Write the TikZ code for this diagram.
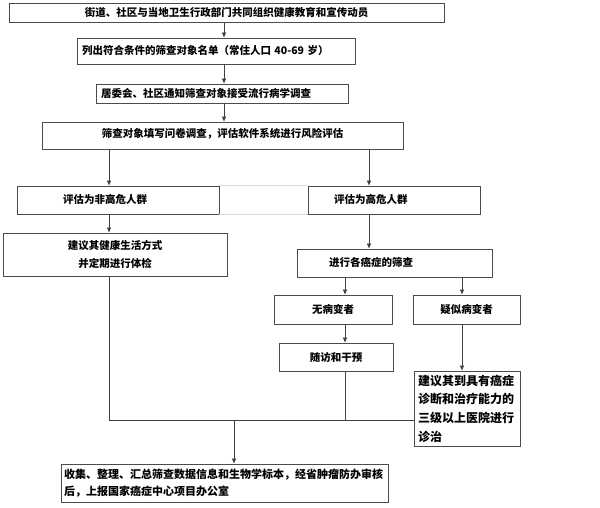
\documentclass[tikz,border=0pt]{standalone}
\usepackage{fontspec}
\setmainfont{Noto Sans CJK SC}
\usetikzlibrary{positioning, arrows.meta}

\begin{document}
\begin{tikzpicture}[x=1pt, y=-1pt,
box/.style={draw=black!70, line width=0.6pt, inner sep=0pt, align=center, font=\fontsize{10.5}{18}\selectfont\bfseries},
lbox/.style={box, align=left, inner xsep=5pt},
arrow/.style={draw=black!75, line width=0.6pt, -{Latex[length=1.8mm, width=1.6mm]}},
link/.style={draw=black!75, line width=0.6pt},
faint/.style={draw=black!15, line width=0.5pt} ]

\useasboundingbox (0,0) rectangle (600,507);

% Columns
\coordinate (spine) at (224,0);
\coordinate (colL) at (109,0);
\coordinate (colR) at (369,0);
\coordinate (colA) at (345,0);
\coordinate (colB) at (462,0);
\coordinate (join) at (234,420);

% Nodes
\node[box, minimum width=435pt, minimum height=19pt] (mobilize) at (226.5,12.5) {街道、社区与当地卫生行政部门共同组织健康教育和宣传动员};
\node[lbox, text width=268pt, minimum height=26pt] (list) at (216,51) {列出符合条件的筛查对象名单（常住人口 40-69 岁）};
\node[lbox, text width=242pt, minimum height=19pt] (notify) at (222,93.5) {居委会、社区通知筛查对象接受流行病学调查};
\node[box, minimum width=361pt, minimum height=27pt, text depth=5pt] (survey) at (222.5,135.5) {筛查对象填写问卷调查，评估软件系统进行风险评估};
\node[lbox, inner xsep=46pt, text width=110pt, minimum height=28pt, text depth=3pt] (lowrisk) at (118,200) {评估为非高危人群};
\node[lbox, inner xsep=26pt, text width=120pt, minimum height=28pt, text depth=3pt] (highrisk) at (394,200) {评估为高危人群};
\node[box, minimum width=224pt, minimum height=43pt] (advice) at (115,254.5) {建议其健康生活方式\\并定期进行体检};
\node[lbox, inner xsep=32pt, text width=131pt, minimum height=28pt, text depth=3pt] (screen) at (394.5,263) {进行各癌症的筛查};
\node[box, minimum width=118pt, minimum height=29pt] (nolesion) at (333,309.5) {无病变者};
\node[box, minimum width=107pt, minimum height=29pt] (suspect) at (466.5,309.5) {疑似病变者};
\node[box, minimum width=114pt, minimum height=28pt] (follow) at (336,357) {随访和干预};
\node[lbox, inner xsep=4pt, text width=98pt, minimum height=75pt, font=\fontsize{12}{18.7}\selectfont\bfseries] (hospital) at (467,408.5) {建议其到具有癌症\\诊断和治疗能力的\\三级以上医院进行\\诊治};
\node[lbox, inner xsep=3pt, text width=321pt, minimum height=38pt, font=\fontsize{11}{17.6}\selectfont\bfseries] (report) at (224.5,483) {收集、整理、汇总筛查数据信息和生物学标本，经省肿瘤防办审核\\后，上报国家癌症中心项目办公室};

% Arrows
\draw[arrow] (mobilize.south -| spine) -- (list.north -| spine);
\draw[arrow] (list.south -| spine) -- (notify.north -| spine);
\draw[arrow] (notify.south -| spine) -- (survey.north -| spine);
\draw[arrow] (survey.south -| colL) -- (lowrisk.north -| colL);
\draw[arrow] (survey.south -| colR) -- (highrisk.north -| colR);
\draw[faint] (lowrisk.north east) -- (highrisk.north west);
\draw[faint] (lowrisk.south east) -- (highrisk.south west);
\draw[arrow] (lowrisk.south -| colL) -- (advice.north -| colL);
\draw[arrow] (highrisk.south -| colR) -- (screen.north -| colR);
\draw[arrow] (screen.south -| colA) -- (nolesion.north -| colA);
\draw[arrow] (screen.south -| colB) -- (suspect.north -| colB);
\draw[arrow] (nolesion.south -| colA) -- (follow.north -| colA);
\draw[arrow] (suspect.south -| colB) -- (hospital.north -| colB);
\draw[link] (advice.south -| colL) |- (hospital.west |- join);
\draw[link] (follow.south -| colA) -- (colA |- join);
\draw[arrow] (join) -- (report.north -| join);

\end{tikzpicture}
\end{document}
